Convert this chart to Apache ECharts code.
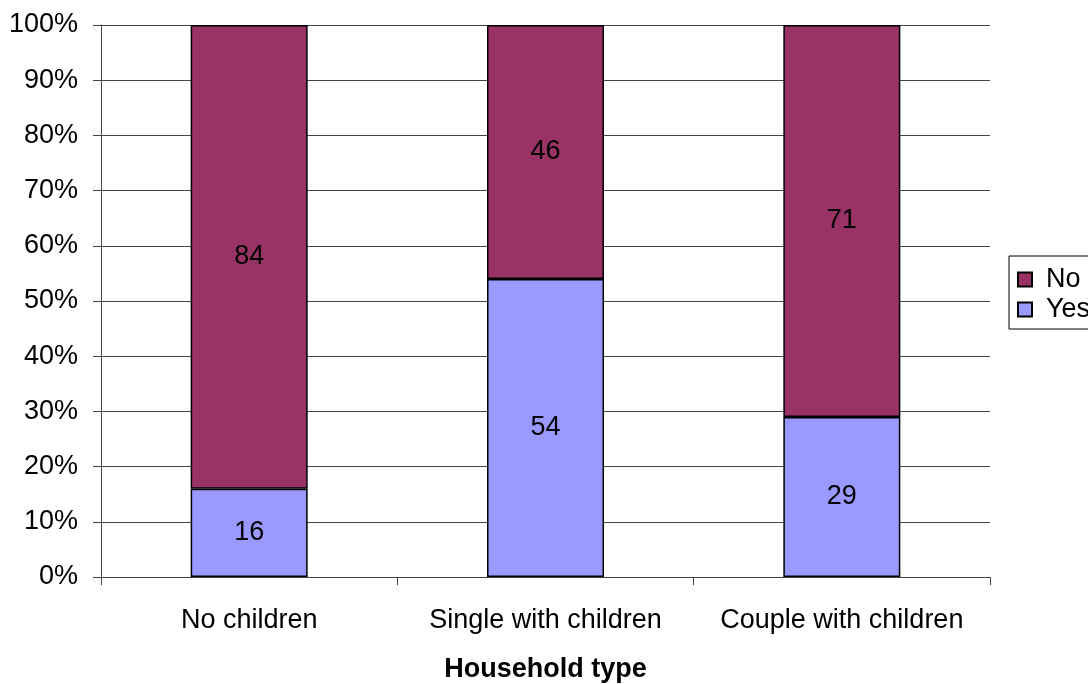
<!DOCTYPE html>
<html>
<head>
<meta charset="utf-8">
<script src="https://cdn.jsdelivr.net/npm/echarts@6/dist/echarts.min.js"></script>
<style>
  html, body { margin: 0; padding: 0; background: #fff; }
  #chart { width: 1088px; height: 684px; }
</style>
</head>
<body>
<div id="chart"></div>
<script>
const categories = ['No children', 'Single with children', 'Couple with children']
const yesValues = [16, 54, 29]
const noValues = [84, 46, 71]

const font = 'Arial, "Liberation Sans", sans-serif'
const chart = echarts.init(document.getElementById('chart'))

chart.setOption({
  backgroundColor: '#fff',
  animation: false,
  textStyle: { fontFamily: font, color: '#000' },
  grid: { left: 101, right: 98, top: 25, bottom: 107, containLabel: false, outerBoundsMode: 'none' },
  legend: {
    orient: 'vertical',
    left: 1009,
    top: 256,
    data: ['No', 'Yes'],
    itemWidth: 14,
    itemHeight: 14,
    itemGap: 3,
    padding: [10, 40, 6, 8],
    borderColor: '#000',
    borderWidth: 1,
    icon: 'rect',
    textStyle: { fontSize: 27, color: '#000', fontFamily: font, lineHeight: 27, padding: [0, 0, 0, 9] }
  },
  xAxis: {
    type: 'category',
    data: categories,
    name: 'Household type',
    nameLocation: 'middle',
    nameGap: 79,
    nameMoveOverlap: false,
    nameTextStyle: { fontSize: 27, fontWeight: 'bold', color: '#000', fontFamily: font },
    axisLine: { lineStyle: { color: '#444', width: 1 } },
    axisTick: { show: true, length: 8, lineStyle: { color: '#444' } },
    axisLabel: { fontSize: 27, color: '#000', margin: 30, interval: 0, fontFamily: font }
  },
  yAxis: {
    type: 'value',
    min: 0,
    max: 100,
    interval: 10,
    axisLine: { show: true, lineStyle: { color: '#444', width: 1 } },
    axisTick: { show: true, length: 8, lineStyle: { color: '#444' } },
    axisLabel: { fontSize: 27, color: '#000', formatter: '{value}%', margin: 23, fontFamily: font },
    splitLine: { lineStyle: { color: '#444', width: 1 } }
  },
  series: [
    {
      name: 'Yes',
      type: 'bar',
      stack: 'total',
      data: yesValues,
      barWidth: 117,
      itemStyle: { color: '#9999FF', borderColor: '#000', borderWidth: 1.5 },
      label: { show: true, position: 'inside', fontSize: 27, color: '#000', fontFamily: font }
    },
    {
      name: 'No',
      type: 'bar',
      stack: 'total',
      data: noValues,
      barWidth: 117,
      itemStyle: { color: '#993366', borderColor: '#000', borderWidth: 1.5 },
      label: { show: true, position: 'inside', fontSize: 27, color: '#000', fontFamily: font }
    }
  ]
})
</script>
</body>
</html>
